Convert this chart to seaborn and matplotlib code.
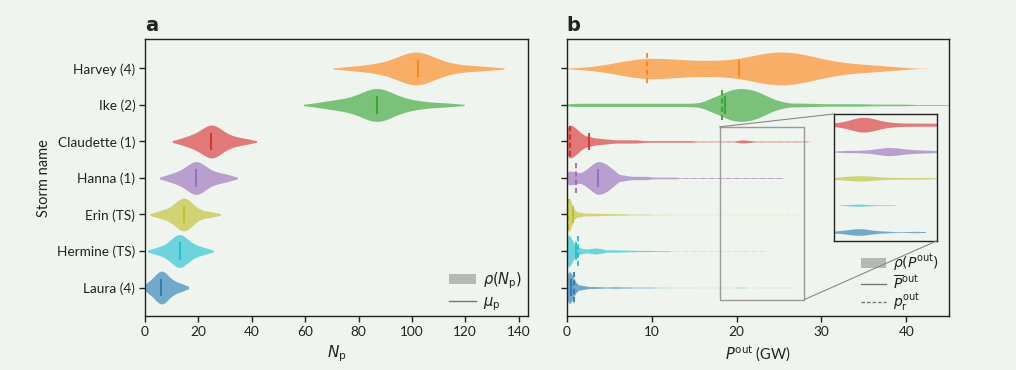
import numpy as np
import pandas as pd
import matplotlib
matplotlib.use("Agg")
import matplotlib.pyplot as plt
from matplotlib.patches import Rectangle, Patch, ConnectionPatch
from matplotlib.lines import Line2D
import seaborn as sns

STORMS = ["Harvey (4)", "Ike (2)", "Claudette (1)", "Hanna (1)", "Erin (TS)", "Hermine (TS)", "Laura (4)"]
COLORS = ["#ff7f0e", "#2ca02c", "#d62728", "#9467bd", "#bcbd22", "#17becf", "#1f77b4"]

# panel a: number of failed poles, samples
np_samples = {
    "Harvey (4)": [77, 83, 87, 90, 92, 94, 96, 97, 98, 99, 100, 101, 101, 102, 102, 103, 104, 105, 106, 107, 109, 111, 113, 117, 122, 128],
    "Ike (2)": [66, 71, 74, 77, 80, 82, 84, 85, 86, 86, 87, 87, 88, 89, 90, 92, 94, 97, 100, 105, 113],
    "Claudette (1)": [14, 17, 19, 20.5, 22, 23, 24, 24.5, 25, 25.5, 26, 27, 28, 29.5, 31.5, 34, 38],
    "Hanna (1)": [9, 12, 14, 15.5, 17, 18, 18.5, 19, 19.5, 20, 21, 22, 23.5, 25.5, 28, 31],
    "Erin (TS)": [5, 8, 10, 11.5, 12.5, 13.5, 14, 14.5, 15, 15.5, 16, 17, 18.5, 21, 25],
    "Hermine (TS)": [4, 7, 9, 10.5, 11, 12, 12.5, 13, 13.5, 14, 15, 16, 17.5, 19.5, 22.5],
    "Laura (4)": [0.8, 2.8, 3.8, 4.7, 5.5, 6, 6.5, 7, 7.5, 8.5, 9.8, 11.5, 14],
}
np_mean = [102.3, 86.8, 24.9, 19.2, 14.6, 13.1, 6.1]

# panel b: power outage (GW), read as value / count pairs
pout_vals = {
    "Harvey (4)": [1.5, 3, 4.5, 6, 7.5, 9, 10.5, 12, 13.5, 15, 16.5, 18, 19.5, 21, 22.5, 24, 25.5, 27, 28.5,
                   30, 31.5, 33, 34.5, 36, 37.5, 39],
    "Ike (2)": [0.5, 1.5, 2.5, 3.5, 4.5, 5.5, 6.5, 7.5, 8.5, 9.5, 10.5, 11.5, 12.5, 13.5, 14.5, 15.5,
                16.5, 17, 17.5, 18, 18.5, 19, 19.5, 20, 20.5, 21, 21.5, 22, 22.5, 23, 23.5, 24, 24.5, 25, 25.5, 26,
                27, 28, 29, 30, 31, 32, 33, 34, 35, 36, 37, 38, 39, 40, 41, 42, 43, 44, 45, 46],
    "Claudette (1)": [0, 0.25, 0.5, 0.75, 1.0, 1.25, 1.5, 1.75, 2.0,
                      2.5, 3, 3.5, 4, 4.5, 5, 5.5, 6, 6.5, 7, 7.5, 8, 8.5, 9, 9.5, 10,
                      10.5, 11, 11.5, 12, 12.5, 13, 13.5, 14, 14.5, 15,
                      16, 17, 18, 19, 20, 20.5, 21, 21.5, 22, 23, 24, 25, 26, 27, 28],
    "Hanna (1)": [0, 0.25, 0.5, 0.75, 1, 1.25, 1.5, 1.75, 2, 2.25, 2.5, 2.75, 3, 3.25, 3.5, 3.75, 4, 4.25,
                  4.5, 4.75, 5, 5.25, 5.5, 5.75, 6,
                  6.5, 7, 7.5, 8, 8.5, 9, 9.5, 10, 10.5, 11, 11.5, 12, 12.5, 13,
                  14, 15, 16, 17, 18, 19, 20, 21, 22, 23, 24, 25],
    "Erin (TS)": [0, 0.1, 0.2, 0.3, 0.4, 0.5, 0.6, 0.7, 0.8, 0.9, 1.0, 1.2, 1.4, 1.6, 1.8, 2.0,
                  2.5, 3, 3.5, 4, 4.5, 5, 5.5, 6, 6.5, 7, 7.5, 8, 8.5, 9, 9.5, 10, 10.5, 11, 11.5, 12,
                  13, 14, 15, 16, 17, 18, 19, 20, 21, 22, 23, 24, 25, 26, 27],
    "Hermine (TS)": [0, 0.1, 0.2, 0.3, 0.4, 0.5, 0.6, 0.7, 0.8, 0.9, 1.0,
                     1.25, 1.5, 1.75, 2, 2.25, 2.5, 2.75, 3, 3.25, 3.5, 3.75, 4, 4.25, 4.5,
                     5, 5.5, 6, 6.5, 7, 7.5, 8, 8.5, 9, 9.5, 10, 10.5, 11, 11.5, 12,
                     13, 14, 15, 16, 17, 18, 19, 20, 21, 22, 23],
    "Laura (4)": [0, 0.1, 0.2, 0.3, 0.4, 0.5, 0.6, 0.7, 0.8, 0.9, 1.0, 1.1, 1.2,
                  1.5, 1.75, 2, 2.25, 2.5, 3, 3.5, 4, 4.5, 5,
                  5.5, 6, 6.5, 7, 7.5, 8, 8.5, 9, 9.5, 10, 10.5, 11, 11.5, 12,
                  13, 14, 15, 16, 17, 18, 19, 20, 20.5, 21, 22, 23, 24, 25, 26],
}
pout_counts = {
    "Harvey (4)": [1, 2, 4, 7, 10, 12, 12, 11, 10, 9, 9, 9, 10, 12, 16, 19, 20, 18, 15, 11, 8, 6, 5, 4, 3, 2],
    "Ike (2)": [4, 4, 4, 4, 4, 4, 4, 4, 4, 4, 4, 4, 4, 4, 4, 5,
                8, 8, 10, 12, 15, 17, 19, 20, 20, 20, 19, 18, 16, 14, 11, 9, 6, 5, 4, 3,
                5, 4, 4, 3, 3, 3, 3, 3, 3, 2, 2, 2, 2, 2, 1, 1, 1, 1, 1, 1],
    "Claudette (1)": [16, 10, 10, 10, 9, 7, 6, 5, 5,
                      7, 5, 4, 4, 3, 3, 2, 2, 2, 2, 2, 2, 2, 1, 1, 1,
                      1, 1, 1, 1, 1, 1, 1, 1, 1, 1,
                      1, 1, 1, 1, 1, 2, 2, 1, 1, 1, 1, 1, 1, 1, 1],
    "Hanna (1)": [6, 4, 4, 4, 4, 3, 3, 3, 4, 5, 6, 7, 8, 9, 10, 10, 10, 9, 9, 8, 7, 6, 5, 4, 3,
                  4, 3, 2, 2, 2, 2, 2, 1, 1, 1, 1, 1, 1, 1,
                  1, 1, 1, 1, 1, 1, 1, 1, 1, 1, 1, 1],
    "Erin (TS)": [26, 20, 19, 17, 14, 12, 9, 7, 5, 4, 3, 5, 4, 4, 4, 3,
                  7, 6, 6, 5, 5, 4, 4, 3, 3, 3, 2, 2, 2, 2, 2, 1, 1, 1, 1, 1,
                  1, 1, 1, 1, 1, 1, 1, 1, 1, 1, 1, 1, 1, 1, 1],
    "Hermine (TS)": [26, 20, 19, 18, 16, 14, 12, 10, 8, 7, 6,
                     10, 9, 7, 6, 5, 5, 6, 7, 8, 8, 7, 6, 5, 4,
                     7, 6, 6, 5, 5, 4, 4, 3, 3, 3, 3, 2, 2, 2, 2,
                     1, 1, 1, 1, 1, 1, 1, 1, 1, 1, 1],
    "Laura (4)": [22, 19, 20, 20, 19, 17, 14, 12, 10, 8, 7, 6, 5,
                  8, 6, 5, 4, 4, 6, 5, 4, 3, 3,
                  4, 4, 3, 3, 3, 2, 2, 2, 2, 2, 1, 1, 1, 1,
                  1, 1, 1, 1, 1, 1, 1, 1, 2, 1, 1, 1, 1, 1, 1],
}
pout_mean = [20.3, 18.7, 2.6, 3.7, 0.7, 1.1, 0.5]
pr_out = [9.5, 18.25, 0.4, 1.15, 0.1, 1.35, 0.8]

# inset: tails of the lower five storms between 18 and 28 GW
tail_storms = STORMS[2:]
tail_samples = {
    "Claudette (1)": [18, 19.5, 20.2, 20.5, 20.8, 21, 21.3, 21.8, 22.6, 24, 26, 28],
    "Hanna (1)": [18.9, 20.5, 21.8, 22.6, 23, 23.3, 23.6, 24, 24.6, 25.5, 26.5, 27.9],
    "Erin (TS)": [18, 19.4, 20.2, 20.5, 20.8, 21.6, 23, 25, 27],
    "Hermine (TS)": [19.1, 19.9, 20.3, 20.6, 21, 22, 23.4],
    "Laura (4)": [18, 19.3, 20, 20.3, 20.5, 20.8, 21.5, 23, 26],
}

BW_A = 0.85
BW_B = [1.6, 0.6, 0.35, 0.3, 0.2, 0.2, 0.2]   # absolute kernel widths (GW)
INSET_W = [0.55, 0.3, 0.2, 0.08, 0.25]
BG = "#eff5ee"
TXT = "#222222"

plt.rcParams["font.family"] = ["Lato", "DejaVu Sans"]
plt.rcParams["mathtext.fontset"] = "dejavusans"
plt.rcParams["axes.edgecolor"] = TXT
plt.rcParams["text.color"] = TXT
plt.rcParams["xtick.color"] = TXT
plt.rcParams["ytick.color"] = TXT
plt.rcParams["axes.labelcolor"] = TXT

fig = plt.figure(figsize=(10.16, 3.70), dpi=100, facecolor=BG)
ax_a = fig.add_axes([0.1427, 0.146, 0.377, 0.748], facecolor=BG)
ax_b = fig.add_axes([0.5578, 0.146, 0.376, 0.748], facecolor=BG)


def violin(ax, values, name, color, width, **kw):
    sub = pd.DataFrame({"value": values, "storm": name})
    sns.violinplot(data=sub, x="value", y="storm", order=STORMS, orient="h", color=color,
                   saturation=1, density_norm="width", width=width, inner=None,
                   linewidth=0, alpha=0.6, ax=ax, **kw)


# panel a
for name, c in zip(STORMS, COLORS):
    violin(ax_a, np_samples[name], name, c, 0.9, bw_adjust=BW_A, cut=1.3)
for i, (m, c) in enumerate(zip(np_mean, COLORS)):
    ax_a.vlines(m, i - 0.24, i + 0.24, color=c, lw=1.5, alpha=0.85)

# panel b
for name, c, bw in zip(STORMS, COLORS, BW_B):
    vals = np.repeat(pout_vals[name], pout_counts[name])
    violin(ax_b, vals, name, c, 0.9, bw_method=bw / np.std(vals, ddof=1), cut=2.5)
for i, (m, r, c) in enumerate(zip(pout_mean, pr_out, COLORS)):
    ax_b.vlines(m, i - 0.24, i + 0.24, color=c, lw=1.5, alpha=0.85)
    ax_b.vlines(r, i - 0.42, i + 0.42, color=c, lw=1.5, alpha=0.85, linestyles=(0, (2.5, 1.5)))

for ax in (ax_a, ax_b):
    ax.set_ylim(6.78, -0.8)
    for s in ax.spines.values():
        s.set_linewidth(1.0)
        s.set_visible(True)
    ax.tick_params(axis="both", length=4, width=1, labelsize=9.8, pad=3)

ax_a.set_xlim(0, 143.5)
ax_a.set_xticks([0, 20, 40, 60, 80, 100, 120, 140])
ax_a.set_ylabel("Storm name", fontsize=10.5, labelpad=4)
ax_a.set_xlabel(r"$N_\mathrm{p}$", fontsize=11, labelpad=4)

ax_b.set_xlim(0, 45)
ax_b.set_xticks([0, 10, 20, 30, 40])
ax_b.set_yticks(range(len(STORMS)))
ax_b.set_yticklabels([])
ax_b.set_ylabel("")
ax_b.set_xlabel(r"$P^\mathrm{out}$ (GW)", fontsize=10.5, labelpad=4)

# legends
gray_patch = Patch(facecolor="#b6bab4", edgecolor="none")
ax_a.legend([gray_patch, Line2D([], [], color="#777777", lw=1)],
            [r"$\rho(N_\mathrm{p})$", r"$\mu_\mathrm{p}$"],
            loc="lower right", bbox_to_anchor=(1.0, -0.01), frameon=False, fontsize=10.5,
            handlelength=1.8, handletextpad=0.5, labelspacing=0.3, borderaxespad=0)
ax_b.legend([gray_patch, Line2D([], [], color="#777777", lw=1),
             Line2D([], [], color="#777777", lw=1, ls=(0, (2.5, 1.5)))],
            [r"$\rho(P^\mathrm{out})$", r"$\overline{P}^\mathrm{out}$", r"$p_\mathrm{r}^\mathrm{out}$"],
            loc="lower right", bbox_to_anchor=(0.99, -0.01), frameon=False, fontsize=10,
            handlelength=1.8, handletextpad=0.5, labelspacing=0.0, borderaxespad=0)

# inset
ZOOM_X = (18, 28)
ZOOM_Y = (6.33, 1.6)
ax_in = fig.add_axes([0.821, 0.349, 0.101, 0.343], facecolor=BG)
for name, c, w in zip(tail_storms, COLORS[2:], INSET_W):
    violin(ax_in, tail_samples[name], name, c, w, bw_adjust=0.6, cut=1)
ax_in.set_xlim(*ZOOM_X)
ax_in.set_ylim(*ZOOM_Y)
ax_in.set_xticks([])
ax_in.set_yticks([])
ax_in.set_xlabel("")
ax_in.set_ylabel("")
for s in ax_in.spines.values():
    s.set_visible(True)
    s.set_linewidth(1.0)
    s.set_color(TXT)

ax_b.add_patch(Rectangle((ZOOM_X[0], ZOOM_Y[1]), ZOOM_X[1] - ZOOM_X[0], ZOOM_Y[0] - ZOOM_Y[1],
                         fill=False, edgecolor="#999999", lw=1.0, zorder=5))
for xa, ya, xb, yb in [(ZOOM_X[0], ZOOM_Y[1], 0, 1), (ZOOM_X[1], ZOOM_Y[0], 1, 0)]:
    con = ConnectionPatch(xyA=(xa, ya), coordsA=ax_b.transData, xyB=(xb, yb), coordsB=ax_in.transAxes,
                          color="#888888", lw=0.8)
    fig.add_artist(con)

fig.text(0.1427, 0.915, "a", fontsize=14, fontweight="bold", family="DejaVu Sans")
fig.text(0.5578, 0.915, "b", fontsize=14, fontweight="bold", family="DejaVu Sans")

fig.savefig("out.png", dpi=100, facecolor=BG)
